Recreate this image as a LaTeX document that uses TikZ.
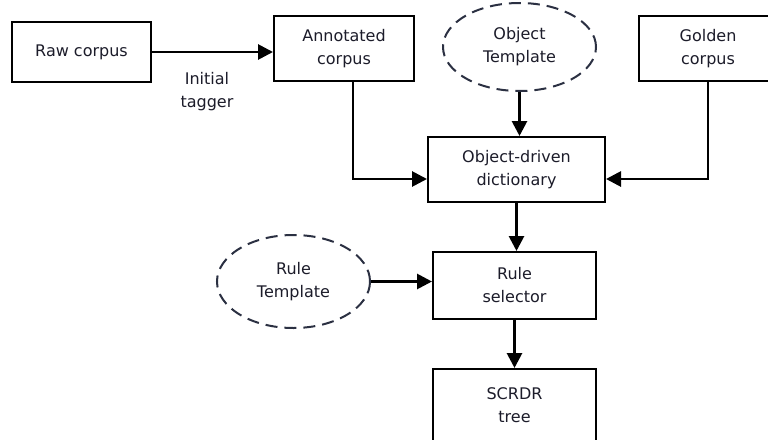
\documentclass[tikz,border=0pt]{standalone}
\usepackage{fontspec}
\setmainfont{DejaVu Sans}
\usetikzlibrary{arrows.meta,shapes.geometric}
\definecolor{inkc}{HTML}{1C1C2A}
\definecolor{dashc}{HTML}{2B3042}
\tikzset{
  x=1pt, y=1pt,
  every node/.style={font=\fontsize{16}{23}\selectfont, text=inkc, align=center, inner sep=0pt},
  procbox/.style={draw=black, line width=2pt, rectangle},
  tmpl/.style={draw=dashc, line width=2pt, ellipse, dash pattern=on 12pt off 7pt},
  flow/.style={line width=2.8pt, -{Triangle[length=15pt,width=15pt]}}
}
\begin{document}
\begin{tikzpicture}
  \clip (0,0) rectangle (768,-439);
  \fill[white] (0,0) rectangle (768,-439);

  % input stage
  \node[procbox, minimum width=139pt, minimum height=60pt] (raw) at (81.5,-52) {Raw corpus};
  \node[procbox, minimum width=140pt, minimum height=65pt] (annot) at (344,-48.5) {Annotated\\corpus};
  \node[tmpl, minimum width=153pt, minimum height=88pt] (objt) at (519.5,-47) {Object\\Template};
  \node[procbox, minimum width=138pt, minimum height=65pt] (golden) at (708,-48.5) {Golden\\corpus};
  \node (tag) at (207,-92) {Initial\\tagger};

  % dictionary and rule stages
  \node[procbox, minimum width=177pt, minimum height=65pt] (dict) at (516.5,-169.5) {Object-driven\\dictionary};
  \node[tmpl, minimum width=153pt, minimum height=93pt] (rulet) at (293.5,-281.5) {Rule\\Template};
  \node[procbox, minimum width=163pt, minimum height=67pt] (rsel) at (514.5,-285.5) {Rule\\selector};
  \node[procbox, minimum width=163pt, minimum height=72pt] (tree) at (514.5,-405) {SCRDR\\tree};

  % connectors
  \draw[flow] (raw.east) -- (raw.east -| annot.west);
  \draw[flow] ([xshift=9pt]annot.south) |- ([yshift=-9.5pt]dict.west);
  \draw[flow] (objt.south) -- (objt.south |- dict.north);
  \draw[flow] (golden.south) |- ([yshift=-9.5pt]dict.east);
  \draw[flow] (dict.south) -- (dict.south |- rsel.north);
  \draw[flow] (rulet.east) -- (rulet.east -| rsel.west);
  \draw[flow] (rsel.south) -- (tree.north);
\end{tikzpicture}
\end{document}
